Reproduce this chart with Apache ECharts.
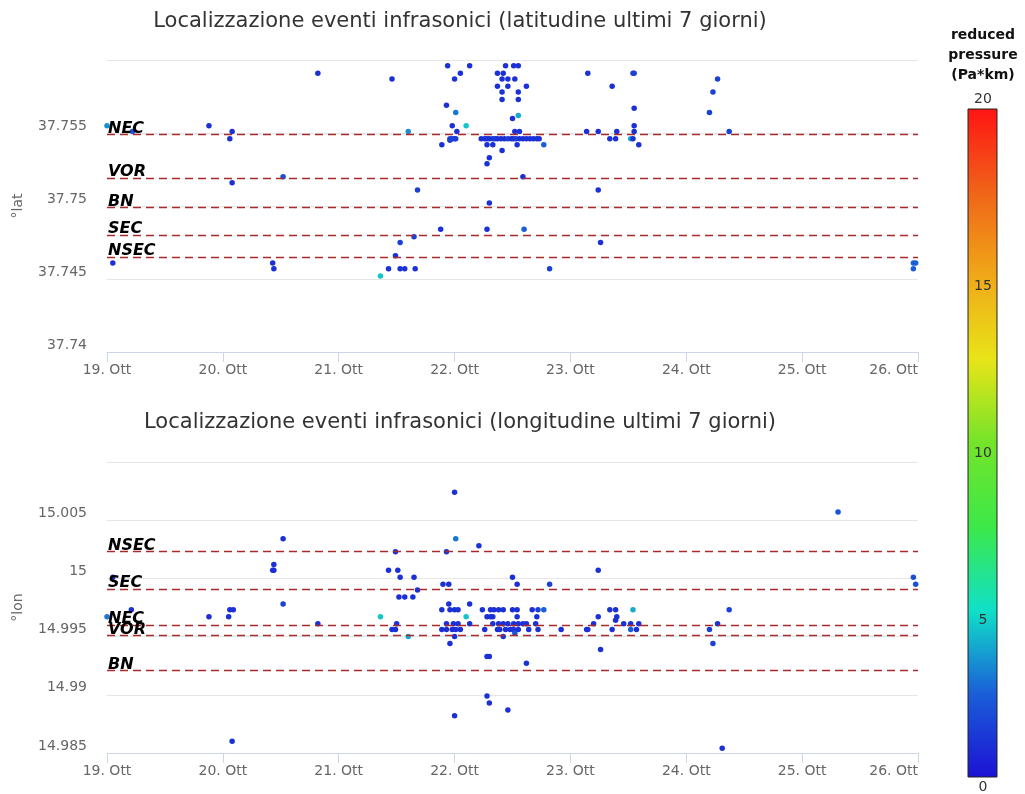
<!DOCTYPE html>
<html><head><meta charset="utf-8">
<script src="https://cdn.jsdelivr.net/npm/echarts@6/dist/echarts.min.js"></script>
<style>html,body{margin:0;padding:0;background:#fff}#c{width:1025px;height:794px}</style>
</head><body><div id="c"></div>
<script>
// ---- data ----
const titleLat = 'Localizzazione eventi infrasonici (latitudine ultimi 7 giorni)';
const titleLon = 'Localizzazione eventi infrasonici (longitudine ultimi 7 giorni)';
const dayMin = 19, dayMax = 26;          // October days
const monthLabel = 'Ott';
const stationNames = ['NEC', 'VOR', 'BN', 'SEC', 'NSEC'];
const stationLat = [37.7549, 37.7519, 37.7499, 37.7480, 37.7465];
const stationLon = [14.9960, 14.9951, 14.9921, 14.9991, 15.0023];
const colorbarTicks = [0, 5, 10, 15, 20];
const colorbarTitle = ['reduced', 'pressure', '(Pa*km)'];

// [day of October (fractional), latitude, reduced pressure]
const latEvents = [
 [19.00,37.7555,3.5],[19.22,37.7551,2],[19.88,37.7555,1],[20.08,37.7551,1],[20.06,37.7546,1],[20.08,37.7516,1],
 [20.52,37.7520,2],[20.82,37.7591,1],[19.05,37.7461,1],[20.43,37.7461,1],[20.44,37.7457,1],
 [21.46,37.7587,1],[21.94,37.7596,1],[22.13,37.7596,1],[22.05,37.7591,1],[22.00,37.7587,1],[21.93,37.7569,1],
 [22.01,37.7564,3],[22.10,37.7555,4.5],[21.98,37.7555,1],[22.02,37.7551,1],[21.60,37.7551,3.5],[21.89,37.7542,1],
 [21.96,37.7546,1.5],[21.98,37.7546,1.5],[22.00,37.7546,1.5],[22.01,37.7546,1.5],[21.96,37.7545,1.5],
 [21.68,37.7511,1.5],[21.88,37.7484,1],[21.65,37.7479,1.5],[21.53,37.7475,1.5],[21.49,37.7466,1],
 [21.43,37.7457,1],[21.53,37.7457,1],[21.57,37.7457,1],[21.66,37.7457,1],[21.36,37.7452,4.5],
 [22.37,37.7591,1],[22.42,37.7591,1],[22.44,37.7596,1],[22.51,37.7596,1],[22.55,37.7596,1],[22.41,37.7587,1],
 [22.46,37.7587,1],[22.52,37.7587,1],[22.37,37.7582,1],[22.46,37.7582,1],[22.41,37.7578,1],[22.41,37.7573,1],
 [22.62,37.7582,1],[22.55,37.7578,1],[22.55,37.7573,1],[22.50,37.7560,1],[22.55,37.7562,4],[22.52,37.7551,1],[22.56,37.7551,1],
 [22.23,37.7546,1],[22.26,37.7546,1],[22.28,37.7546,1],[22.30,37.7546,1],[22.33,37.7546,1],[22.35,37.7546,1.5],
 [22.37,37.7546,1],[22.40,37.7546,1],[22.43,37.7546,1],[22.46,37.7546,1.5],[22.49,37.7546,1],[22.51,37.7546,1],
 [22.53,37.7546,1.5],[22.56,37.7546,1],[22.59,37.7546,1],[22.62,37.7546,1],[22.65,37.7546,1],[22.68,37.7546,1],
 [22.71,37.7546,1],[22.73,37.7546,1],
 [22.28,37.7542,1],[22.33,37.7542,1],[22.54,37.7542,1],[22.77,37.7542,2.5],[22.41,37.7538,1],[22.30,37.7533,1],
 [22.28,37.7529,1],[22.59,37.7520,1],[22.30,37.7502,1],[22.28,37.7484,1],[22.60,37.7484,2.5],[22.82,37.7457,1.5],
 [23.15,37.7591,1],[23.55,37.7591,1.5],[23.54,37.7591,1.5],[23.36,37.7582,1],[23.55,37.7567,1],[23.55,37.7555,1],
 [23.55,37.7551,1],[23.14,37.7551,1],[23.24,37.7551,1],[23.40,37.7551,1],[23.34,37.7546,1],[23.39,37.7546,1],
 [23.52,37.7546,4],[23.54,37.7546,1],[23.59,37.7542,1],[23.24,37.7511,1],[23.26,37.7475,1],
 [24.27,37.7587,1.5],[24.23,37.7578,1.5],[24.20,37.7564,1.5],[24.37,37.7551,1.5],
 [25.96,37.7461,2.5],[25.98,37.7461,2.5],[25.96,37.7457,2.5]
];

// [day of October (fractional), longitude, reduced pressure]
const lonEvents = [
 [19.00,14.9967,3],[19.05,15.0001,1],[19.21,14.9973,1],[19.88,14.9967,1],[20.05,14.9967,1],[20.06,14.9973,1],
 [20.09,14.9973,1],[20.08,14.9860,1],[20.44,15.0012,1],[20.44,15.0007,1],[20.43,15.0007,1],[20.52,15.0034,1],
 [20.52,14.9978,1.5],[20.82,14.9961,1],
 [22.00,15.0074,1],[22.01,15.0034,3],[22.21,15.0028,1],[21.49,15.0023,1],[21.93,15.0023,1],[21.43,15.0007,1],
 [21.51,15.0007,1],[21.53,15.0001,1],[21.65,15.0001,1],[21.68,14.9990,1],[21.52,14.9984,1],[21.57,14.9984,1],
 [21.64,14.9984,1],[21.36,14.9967,4.5],[21.46,14.9956,1],[21.49,14.9956,1],[21.50,14.9961,1],[21.60,14.9950,4],
 [21.90,14.9995,1],[21.95,14.9995,1],[21.95,14.9978,1],[21.89,14.9973,1],[21.96,14.9973,1],[22.00,14.9973,1],
 [22.03,14.9973,1],[22.10,14.9967,4.5],[22.13,14.9978,1],[21.93,14.9961,1],[21.99,14.9961,1],[22.03,14.9961,1],
 [22.13,14.9961,1],[21.89,14.9956,1],[21.93,14.9956,1],[21.98,14.9956,1],[22.01,14.9956,1],[22.05,14.9956,1],
 [22.00,14.9950,1],[21.96,14.9944,1],[22.00,14.9882,1],
 [22.24,14.9973,1],[22.31,14.9973,1],[22.34,14.9973,1],[22.38,14.9973,1],[22.42,14.9973,1],[22.50,14.9973,1],
 [22.54,14.9973,1],[22.28,14.9967,1],[22.31,14.9967,1],[22.33,14.9967,1],[22.54,14.9967,1],[22.50,15.0001,1],
 [22.54,14.9995,1],[22.82,14.9995,1.5],
 [22.33,14.9961,1],[22.38,14.9961,1],[22.42,14.9961,1],[22.46,14.9961,1],[22.51,14.9961,1],[22.55,14.9961,1],
 [22.59,14.9961,1],[22.62,14.9961,1],
 [22.26,14.9956,1],[22.37,14.9956,1],[22.39,14.9956,1],[22.44,14.9956,1],[22.48,14.9956,1],[22.51,14.9956,1],
 [22.55,14.9956,1],[22.42,14.9950,1],[22.52,14.9953,2],[22.28,14.9933,1],[22.30,14.9933,1],[22.62,14.9927,1],
 [22.28,14.9899,1],[22.30,14.9893,1],[22.46,14.9887,1],
 [22.67,14.9973,1],[22.72,14.9973,1.5],[22.77,14.9973,2.5],[22.71,14.9967,1],[22.70,14.9961,1],[22.64,14.9956,1],
 [22.72,14.9956,1],[22.92,14.9956,1],
 [23.24,15.0007,1],[23.26,14.9939,1],[23.24,14.9967,1],[23.20,14.9961,1],[23.14,14.9956,1],[23.15,14.9956,1],
 [23.34,14.9973,1],[23.39,14.9973,1],[23.40,14.9967,1],[23.39,14.9964,1],[23.36,14.9956,1],[23.46,14.9961,1],
 [23.54,14.9973,4],[23.52,14.9961,1],[23.59,14.9961,1],[23.52,14.9956,2.5],[23.57,14.9956,1],
 [24.37,14.9973,1.5],[24.27,14.9961,1],[24.20,14.9956,1.5],[24.23,14.9944,1.5],[24.31,14.9854,1],
 [25.31,15.0057,2],[25.96,15.0001,2],[25.98,14.9995,2]
];

// ---- chart ----
const FONT = 'DejaVu Sans';
const rampColors = ['#1c12d4','#1a5ed8','#10e0c8','#3ce848','#74e42a','#e8e418','#f0a818','#f06418','#ff1414'];

function yFmt(v){ return String(+v.toFixed(3)); }

function xAxisFor(i){
  return {gridIndex:i, type:'value', min:dayMin, max:dayMax, interval:1,
    axisLine:{lineStyle:{color:'#ccd6eb'}},
    axisTick:{length:10, lineStyle:{color:'#ccd6eb'}},
    splitLine:{show:false},
    axisLabel:{color:'#666', fontSize:14, margin:11, fontFamily:FONT,
      formatter:v=>v+'. '+monthLabel, alignMaxLabel:'right'}};
}
function yAxisFor(i, min, max, name){
  return {gridIndex:i, type:'value', min:min, max:max, interval:0.005,
    name:name, nameLocation:'middle', nameGap:82, nameRotate:90,
    nameTextStyle:{color:'#666', fontSize:14, fontFamily:FONT},
    axisLine:{show:false}, axisTick:{show:false},
    splitLine:{lineStyle:{color:'#e6e6e6'}},
    axisLabel:{color:'#666', fontSize:14, margin:20, fontFamily:FONT, showMaxLabel:false,
      verticalAlign:'bottom', formatter:yFmt}};
}
function stationSeries(i, vals){
  return {type:'line', xAxisIndex:i, yAxisIndex:i, data:[], z:5, silent:true,
    markLine:{silent:true, symbol:'none', animation:false, precision:6,
      lineStyle:{type:[8,5], color:'#a82a2a', width:1.4},
      label:{position:'insideStartTop', formatter:'{b}', fontStyle:'italic', fontWeight:'bold',
        fontSize:16, color:'#000', fontFamily:FONT, distance:[1,-2]},
      emphasis:{disabled:true},
      data: stationNames.map((n,k)=>({name:n, yAxis:vals[k]}))}};
}

const chart = echarts.init(document.getElementById('c'), null, {renderer:'canvas'});
const grad = new echarts.graphic.LinearGradient(0,1,0,0,
  rampColors.map((c,k)=>({offset:k/(rampColors.length-1), color:c})));

const cbTop = 109, cbH = 668, cbX = 968, cbW = 29;
const graphics = [
  {type:'rect', shape:{x:cbX, y:cbTop, width:cbW, height:cbH}, style:{fill:grad, stroke:'#222', lineWidth:1}, z:10}
];
colorbarTitle.forEach((t,k)=>graphics.push({type:'text', x:983, y:35+k*20, z:10,
  style:{text:t, fill:'#111', font:'bold 14px "DejaVu Sans"', textAlign:'center', textVerticalAlign:'middle'}}));
colorbarTicks.forEach(v=>{
  let y = cbTop + cbH*(1 - v/20) + 10;
  if (v===20) y = 99;
  if (v===0) y = 787;
  graphics.push({type:'text', x:983, y:y, z:11,
    style:{text:String(v), fill:'#333', font:'14px "DejaVu Sans"', textAlign:'center', textVerticalAlign:'middle'}});
});

chart.setOption({
  animation:false,
  backgroundColor:'#fff',
  textStyle:{fontFamily:FONT},
  title:[
    {text:titleLat, left:455, top:6, textAlign:'center', textStyle:{fontSize:21, fontWeight:'normal', color:'#333', fontFamily:FONT}},
    {text:titleLon, left:455, top:407, textAlign:'center', textStyle:{fontSize:21, fontWeight:'normal', color:'#333', fontFamily:FONT}}
  ],
  grid:[
    {left:107, top:60, width:811, height:292},
    {left:107, top:462, width:811, height:291}
  ],
  xAxis:[xAxisFor(0), xAxisFor(1)],
  yAxis:[yAxisFor(0, 37.74, 37.76, '°lat'), yAxisFor(1, 14.985, 15.01, '°lon')],
  visualMap:{show:false, type:'continuous', min:0, max:20, dimension:2, seriesIndex:[0,1],
    inRange:{color:rampColors}},
  series:[
    {type:'scatter', xAxisIndex:0, yAxisIndex:0, data:latEvents, symbolSize:5.5, z:2, itemStyle:{opacity:1}},
    {type:'scatter', xAxisIndex:1, yAxisIndex:1, data:lonEvents, symbolSize:5.5, z:2, itemStyle:{opacity:1}},
    stationSeries(0, stationLat),
    stationSeries(1, stationLon)
  ],
  graphic:graphics
});
</script>
</body></html>
